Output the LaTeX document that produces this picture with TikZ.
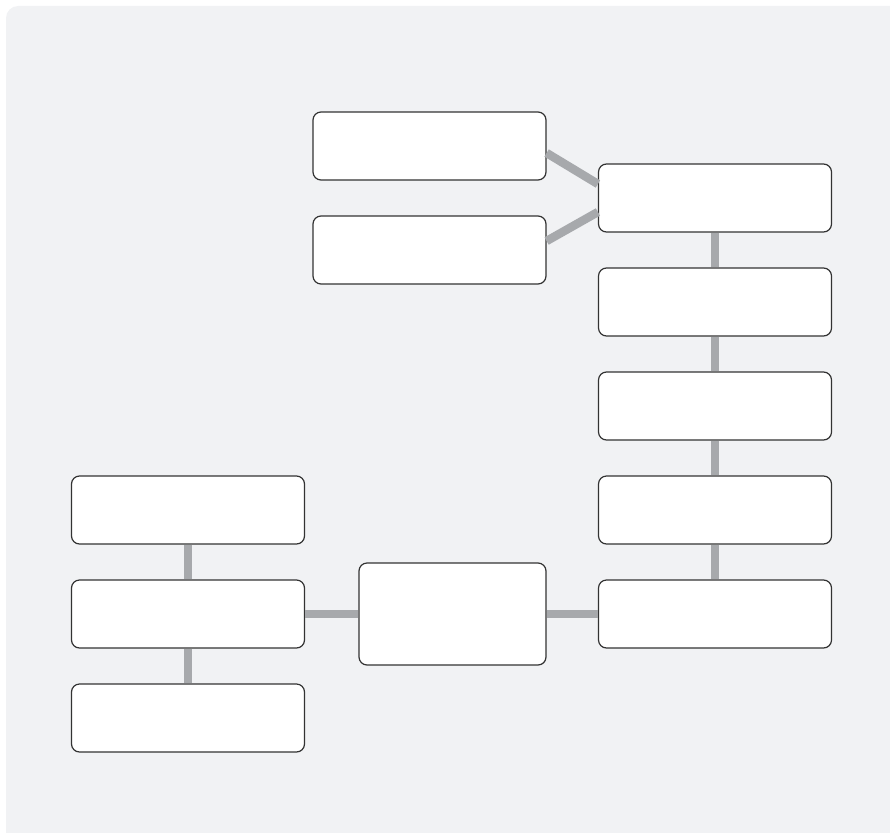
\documentclass[tikz,border=0pt]{standalone}
\usepackage{xcolor}
\definecolor{panelgray}{RGB}{241,242,244}
\definecolor{linkgray}{RGB}{167,169,172}
\definecolor{edgedark}{RGB}{51,51,51}
\usepackage{tikz}
\usetikzlibrary{positioning}

\begin{document}
\begin{tikzpicture}[x=1pt, y=-1pt]
        \tikzset{
          card/.style={rectangle, rounded corners=8pt, draw=edgedark, fill=white,
                       line width=1.2pt, minimum width=233pt, minimum height=68pt,
                       inner sep=0pt},
          hub/.style={card, minimum width=187pt, minimum height=102pt},
          link/.style={draw=linkgray, line width=8.5pt}
        }
        \useasboundingbox (0,0) rectangle (890,832);
        % Panel
        \fill[panelgray, rounded corners=12pt] (6,6) rectangle (910,852);
        % Top pair
        \node[card] (A1) at (429.5,146) {};
        \node[card] (A2) at (429.5,250) {};
        % Right column
        \foreach \i in {1,2,3,4,5} {
          \node[card] (R\i) at (715,94+104*\i) {};
        }
        % Left column
        \foreach \i in {1,2,3} {
          \node[card] (L\i) at (188,406+104*\i) {};
        }
        % Middle
        \node[hub] (C) at (452.5,614) {};
        % Connections
        \draw[link] ([yshift=-7pt]A1.east) -- ([yshift=14pt]R1.west);
        \draw[link] ([yshift=9pt]A2.east) -- ([yshift=-14pt]R1.west);
        \foreach \i/\j in {1/2,2/3,3/4,4/5} {
          \draw[link] (R\i.south) -- (R\j.north);
        }
        \foreach \i/\j in {1/2,2/3} {
          \draw[link] (L\i.south) -- (L\j.north);
        }
        \draw[link] (L2.east) -- (C.west);
        \draw[link] (C.east) -- (R5.west);
      \end{tikzpicture}
\end{document}
